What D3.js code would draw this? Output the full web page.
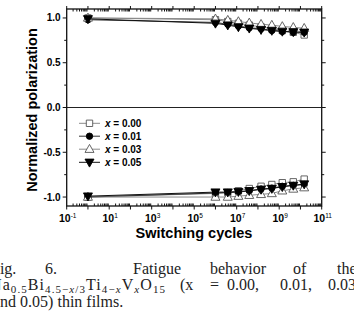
<!DOCTYPE html>
<html>
<head>
<meta charset="utf-8">
<script src="https://cdn.jsdelivr.net/npm/d3@7"></script>
<style>
  body { margin: 0; background: #fff; }
  svg { display: block; }
</style>
</head>
<body>
<svg id="canvas" width="354" height="313"></svg>
<script>
// switching cycles (x positions of the points)
let cycles = [1, 1e6, 3.8e6, 1.2e7, 3.9e7, 1.4e8, 4.5e8, 1.4e9, 4.6e9, 1.5e10];

let seriesNames = ['0.00', '0.01', '0.03', '0.05'];

// positive branch
let posX000 = [1.0, 0.98, 0.96, 0.94, 0.92, 0.9, 0.88, 0.86, 0.84, 0.81];
let posX001 = [0.98, 0.95, 0.93, 0.91, 0.89, 0.88, 0.86, 0.85, 0.84, 0.84];
let posX003 = [1.0, 0.99, 0.975, 0.96, 0.945, 0.93, 0.92, 0.905, 0.895, 0.885];
let posX005 = [0.99, 0.94, 0.92, 0.9, 0.885, 0.87, 0.86, 0.85, 0.845, 0.84];

// negative branch
let negX000 = [-1.0, -0.96, -0.95, -0.93, -0.905, -0.88, -0.86, -0.84, -0.83, -0.8];
let negX001 = [-1.0, -0.955, -0.95, -0.945, -0.93, -0.91, -0.9, -0.88, -0.87, -0.86];
let negX003 = [-1.0, -1.0, -1.0, -0.99, -0.98, -0.97, -0.96, -0.93, -0.91, -0.895];
let negX005 = [-0.99, -0.945, -0.945, -0.94, -0.93, -0.915, -0.905, -0.885, -0.87, -0.855];

let xTickExps = [-1, 1, 3, 5, 7, 9, 11];
let yTicks = [-1.0, -0.5, 0.0, 0.5, 1.0];

let canvas = d3.select('#canvas');

let plotLeft = 66.7, plotRight = 321.7, plotTop = 9, plotBottom = 206;

let xScale = d3.scaleLog().domain([0.1, 1e11]).range([plotLeft, plotRight]);
let yScale = d3.scaleLinear().domain([-1.1, 1.1]).range([plotBottom, plotTop]);

let axisFont = 'Liberation Sans, Arial, sans-serif';

// zero line
canvas.append('line')
  .attr('x1', plotLeft).attr('x2', plotRight)
  .attr('y1', yScale(0)).attr('y2', yScale(0))
  .attr('stroke', '#222').attr('stroke-width', 1.2);

// minor / major ticks on log axis
let majorDecades = d3.range(-1, 12);
let minorTicks = [];
for (let e = -1; e < 11; e++) {
  for (let m = 2; m <= 9; m++) {
    minorTicks.push(m * Math.pow(10, e));
  }
}

let tickG = canvas.append('g').attr('stroke', '#111').attr('stroke-width', 1);

minorTicks.forEach((v) => {
  tickG.append('line')
    .attr('x1', xScale(v)).attr('x2', xScale(v))
    .attr('y1', plotBottom).attr('y2', plotBottom - 2.5);
  tickG.append('line')
    .attr('x1', xScale(v)).attr('x2', xScale(v))
    .attr('y1', plotTop).attr('y2', plotTop + 2.5);
});
majorDecades.forEach((e) => {
  let v = Math.pow(10, e);
  tickG.append('line')
    .attr('x1', xScale(v)).attr('x2', xScale(v))
    .attr('y1', plotBottom).attr('y2', plotBottom + 3.5);
  tickG.append('line')
    .attr('x1', xScale(v)).attr('x2', xScale(v))
    .attr('y1', plotTop).attr('y2', plotTop - 3);
});

// y ticks (outward), both sides
let yMinor = [-0.75, -0.25, 0.25, 0.75];
yTicks.forEach((v) => {
  tickG.append('line').attr('x1', plotLeft).attr('x2', plotLeft - 4)
    .attr('y1', yScale(v)).attr('y2', yScale(v));
  tickG.append('line').attr('x1', plotRight).attr('x2', plotRight + 4)
    .attr('y1', yScale(v)).attr('y2', yScale(v));
});
yMinor.forEach((v) => {
  tickG.append('line').attr('x1', plotLeft).attr('x2', plotLeft - 2.5)
    .attr('y1', yScale(v)).attr('y2', yScale(v));
  tickG.append('line').attr('x1', plotRight).attr('x2', plotRight + 2.5)
    .attr('y1', yScale(v)).attr('y2', yScale(v));
});

// frame
canvas.append('rect')
  .attr('x', plotLeft).attr('y', plotTop)
  .attr('width', plotRight - plotLeft).attr('height', plotBottom - plotTop)
  .attr('fill', 'none').attr('stroke', '#111').attr('stroke-width', 1.3);

// y tick labels
canvas.selectAll('.ylab')
  .data(yTicks)
  .enter()
  .append('text')
  .attr('class', 'ylab')
  .attr('x', plotLeft - 6)
  .attr('y', (v) => yScale(v) + 3.5)
  .attr('text-anchor', 'end')
  .attr('font-family', axisFont)
  .attr('font-weight', 'bold')
  .attr('font-size', 10)
  .text((v) => d3.format('.1f')(v).replace('−', '-'));

// x tick labels 10^n
let xlab = canvas.selectAll('.xlab')
  .data(xTickExps)
  .enter()
  .append('text')
  .attr('class', 'xlab')
  .attr('x', (e) => xScale(Math.pow(10, e)) + 1)
  .attr('y', 222)
  .attr('text-anchor', 'middle')
  .attr('font-family', axisFont)
  .attr('font-weight', 'bold')
  .attr('font-size', 10.5);
xlab.append('tspan').text('10');
xlab.append('tspan')
  .attr('dy', -4.5)
  .attr('font-size', 6.5)
  .attr('font-weight', 'normal')
  .text((e) => (e < 0 ? '-' : '') + Math.abs(e));

// axis titles
canvas.append('text')
  .attr('x', 194).attr('y', 238)
  .attr('text-anchor', 'middle')
  .attr('font-family', axisFont)
  .attr('font-weight', 'bold')
  .attr('font-size', 14.5)
  .text('Switching cycles');

canvas.append('text')
  .attr('transform', 'translate(37,110) rotate(-90)')
  .attr('text-anchor', 'middle')
  .attr('font-family', axisFont)
  .attr('font-weight', 'bold')
  .attr('font-size', 14.5)
  .text('Normalized polarization');

// series definitions
let series = [
  { name: seriesNames[0], pos: posX000, neg: negX000, shape: 'square', filled: false, lineColor: '#8a8a8a' },
  { name: seriesNames[1], pos: posX001, neg: negX001, shape: 'circle', filled: true, lineColor: '#333' },
  { name: seriesNames[2], pos: posX003, neg: negX003, shape: 'triUp', filled: false, lineColor: '#8a8a8a' },
  { name: seriesNames[3], pos: posX005, neg: negX005, shape: 'triDown', filled: true, lineColor: '#111' }
];

let symbolPath = (shape) => {
  if (shape === 'square') {
    return 'M-3.2,-3.2H3.2V3.2H-3.2Z';
  } else if (shape === 'circle') {
    return d3.symbol(d3.symbolCircle, 32)();
  } else if (shape === 'triUp') {
    return 'M0,-4.8L4.5,3.2H-4.5Z';
  } else {
    return 'M0,4.8L4.5,-3.2H-4.5Z';
  }
};

let line = d3.line()
  .x((d) => xScale(d[0]))
  .y((d) => yScale(d[1]));

let plot = canvas.append('g');

series.forEach((s) => {
  [s.pos, s.neg].forEach((vals) => {
    let pts = cycles.map((c, i) => [c, vals[i]]);
    plot.append('path')
      .attr('d', line(pts))
      .attr('fill', 'none')
      .attr('stroke', s.lineColor)
      .attr('stroke-width', 1);
  });
});

series.forEach((s) => {
  [s.pos, s.neg].forEach((vals) => {
    let pts = cycles.map((c, i) => [c, vals[i]]);
    plot.selectAll(null)
      .data(pts)
      .enter()
      .append('path')
      .attr('d', symbolPath(s.shape))
      .attr('transform', (d) => 'translate(' + xScale(d[0]) + ',' + yScale(d[1]) + ')')
      .attr('fill', s.filled ? '#000' : '#fff')
      .attr('stroke', s.filled ? '#000' : '#555')
      .attr('stroke-width', 0.9);
  });
});

// legend
let legend = canvas.append('g');
let legendY = [123.3, 136.2, 149.2, 162.3];
series.forEach((s, i) => {
  let y = legendY[i];
  legend.append('line')
    .attr('x1', 79).attr('x2', 100)
    .attr('y1', y).attr('y2', y)
    .attr('stroke', s.lineColor).attr('stroke-width', 1);
  legend.append('path')
    .attr('d', symbolPath(s.shape))
    .attr('transform', 'translate(89.5,' + y + ')')
    .attr('fill', s.filled ? '#000' : '#fff')
    .attr('stroke', s.filled ? '#000' : '#555')
    .attr('stroke-width', 0.9);
  let t = legend.append('text')
    .attr('x', 105).attr('y', y + 3.6)
    .attr('font-family', axisFont)
    .attr('font-weight', 'bold')
    .attr('font-size', 10);
  t.append('tspan').attr('font-style', 'italic').text('x');
  t.append('tspan').text(' = ' + s.name);
});

// caption (justified, cut at the page edges)
let capFont = 'Liberation Serif, Times New Roman, serif';
let cap = canvas.append('g')
  .attr('font-family', capFont)
  .attr('font-size', 16)
  .attr('fill', '#222');

let line1Words = ['Fig.', '6.', 'Fatigue', 'behavior', 'of', 'the'];
let line1X = [-9, 45, 133, 210, 293, 337];
line1Words.forEach((w, i) => {
  cap.append('text').attr('x', line1X[i]).attr('y', 274).text(w);
});

let subSize = 11;
let f = cap.append('text')
  .attr('x', -10).attr('y', 290)
  .attr('textLength', 175)
  .attr('lengthAdjust', 'spacing');
let sub = (txt, italic) => {
  let ts = f.append('tspan').attr('font-size', subSize).attr('dy', 2.8);
  if (italic) ts.attr('font-style', 'italic');
  ts.text(txt);
  return ts;
};
let main = (txt) => f.append('tspan').attr('dy', -2.8).text(txt);
f.append('tspan').text('Na');
sub('0.5');
main('Bi');
let s1 = f.append('tspan').attr('font-size', subSize).attr('dy', 2.8);
s1.append('tspan').text('4.5−');
s1.append('tspan').attr('font-style', 'italic').text('x');
s1.append('tspan').text('/3');
main('Ti');
let s2 = f.append('tspan').attr('font-size', subSize).attr('dy', 2.8);
s2.append('tspan').text('4−');
s2.append('tspan').attr('font-style', 'italic').text('x');
main('V');
sub('x', true);
main('O');
sub('15');

let line2Words = ['(x', '=', '0.00,', '0.01,', '0.03,'];
let line2X = [180, 210, 227, 280, 328];
line2Words.forEach((w, i) => {
  cap.append('text').attr('x', line2X[i]).attr('y', 290).text(w);
});

cap.append('text').attr('x', -7).attr('y', 306.5).text('and 0.05) thin films.');
</script>
</body>
</html>
